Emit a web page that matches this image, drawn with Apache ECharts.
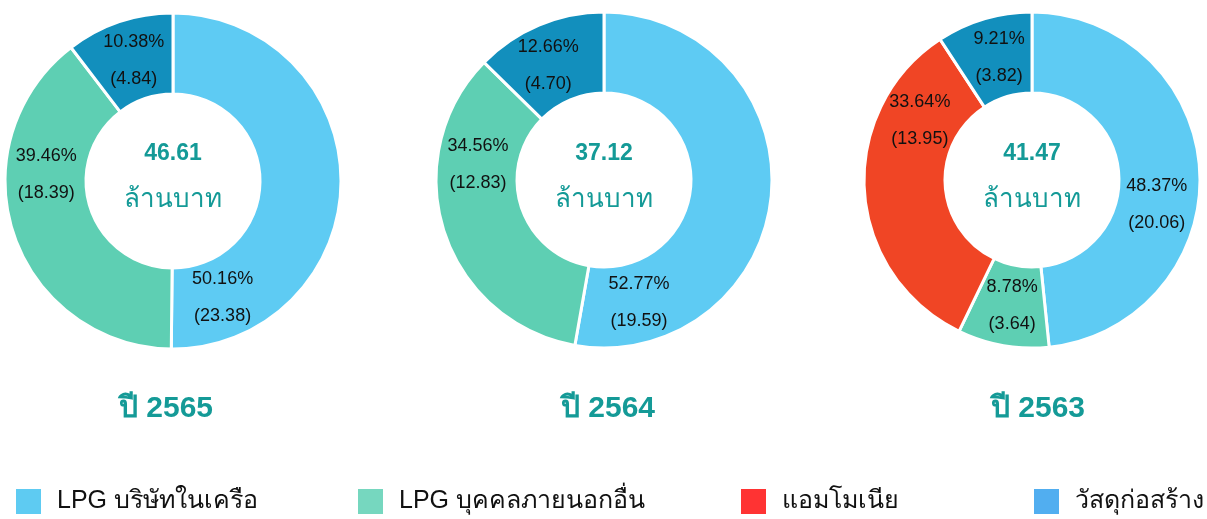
<!DOCTYPE html>
<html>
<head>
<meta charset="utf-8">
<script src="https://cdn.jsdelivr.net/npm/echarts@6/dist/echarts.min.js"></script>
<style>
  html, body { margin: 0; padding: 0; background: #fff; }
  #chart { width: 1207px; height: 519px; }
</style>
</head>
<body>
<div id="chart"></div>
<script>
// data
const categories = ['LPG บริษัทในเครือ', 'LPG บุคคลภายนอกอื่น', 'แอมโมเนีย', 'วัสดุก่อสร้าง']
const years = ['ปี 2565', 'ปี 2564', 'ปี 2563']
const values2565 = [23.38, 18.39, 0, 4.84]
const values2564 = [19.59, 12.83, 0, 4.70]
const values2563 = [20.06, 3.64, 13.95, 3.82]
const unitLabel = 'ล้านบาท'

// styles
const sliceColors = ['#5ecbf3', '#5ecfb3', '#f04525', '#128fbd']
const legendColors = ['#5ecbf2', '#76d7bf', '#ff3333', '#51aef0']
const teal = '#149a97'
const font = '"Liberation Sans", Arial, sans-serif'
const centers = [[173, 181], [604, 180], [1032, 180]]
const innerR = 87
const outerR = 168
const labelR = 127
// label angles (deg, clockwise from 12 o'clock) per category, as placed in the source
const labelAngles = [
  [157, 273, null, 342],
  [164, 277, null, 334],
  [101, 189, 298, 345]
]
const yearCenterX = [166, 608, 1038]
const legendLeft = [9, 351, 734, 1027]

const allValues = [values2565, values2564, values2563]

const chart = echarts.init(document.getElementById('chart'))

const series = allValues.map((vals, si) => {
  const total = vals.reduce((a, b) => a + b, 0)
  const items = []
  const angles = []
  vals.forEach((v, ci) => {
    if (v > 0) {
      items.push({
        name: categories[ci],
        value: v,
        itemStyle: { color: sliceColors[ci] }
      })
      angles.push(labelAngles[si][ci])
    }
  })
  return {
    type: 'pie',
    radius: [innerR, outerR],
    center: centers[si],
    startAngle: 90,
    clockwise: true,
    avoidLabelOverlap: false,
    silent: true,
    itemStyle: { borderColor: '#fff', borderWidth: 3 },
    label: {
      show: true,
      position: 'inside',
      color: '#111',
      fontFamily: font,
      fontSize: 18,
      lineHeight: 37,
      formatter: p => (p.value / total * 100).toFixed(2) + '%\n(' + p.value.toFixed(2) + ')'
    },
    labelLine: { show: false },
    labelLayout: params => {
      const a = angles[params.dataIndex] * Math.PI / 180
      return {
        x: centers[si][0] + labelR * Math.sin(a),
        y: centers[si][1] - labelR * Math.cos(a),
        align: 'center',
        verticalAlign: 'middle'
      }
    },
    emphasis: { disabled: true },
    data: items
  }
})

const titles = []
allValues.forEach((vals, si) => {
  const total = vals.reduce((a, b) => a + b, 0)
  titles.push({
    text: total.toFixed(2),
    subtext: unitLabel,
    left: centers[si][0] - 5,
    top: 137,
    textAlign: 'center',
    itemGap: 22,
    textStyle: { color: teal, fontSize: 23, fontWeight: 'bold', fontFamily: font },
    subtextStyle: { color: teal, fontSize: 26, fontFamily: font }
  })
  titles.push({
    text: years[si],
    left: yearCenterX[si] - 5,
    top: 389,
    textAlign: 'center',
    textStyle: { color: teal, fontSize: 30, fontWeight: 'bold', fontFamily: font }
  })
})

const legends = categories.map((name, ci) => ({
  data: [{ name, itemStyle: { color: legendColors[ci] } }],
  left: legendLeft[ci],
  top: 482,
  icon: 'rect',
  itemWidth: 27,
  itemHeight: 27,
  selectedMode: false,
  textStyle: { color: '#111', fontSize: 25, fontFamily: font, padding: [0, 0, 0, 10] }
}))

chart.setOption({
  animation: false,
  title: titles,
  legend: legends,
  series
})

window.addEventListener('resize', () => chart.resize())
</script>
</body>
</html>
